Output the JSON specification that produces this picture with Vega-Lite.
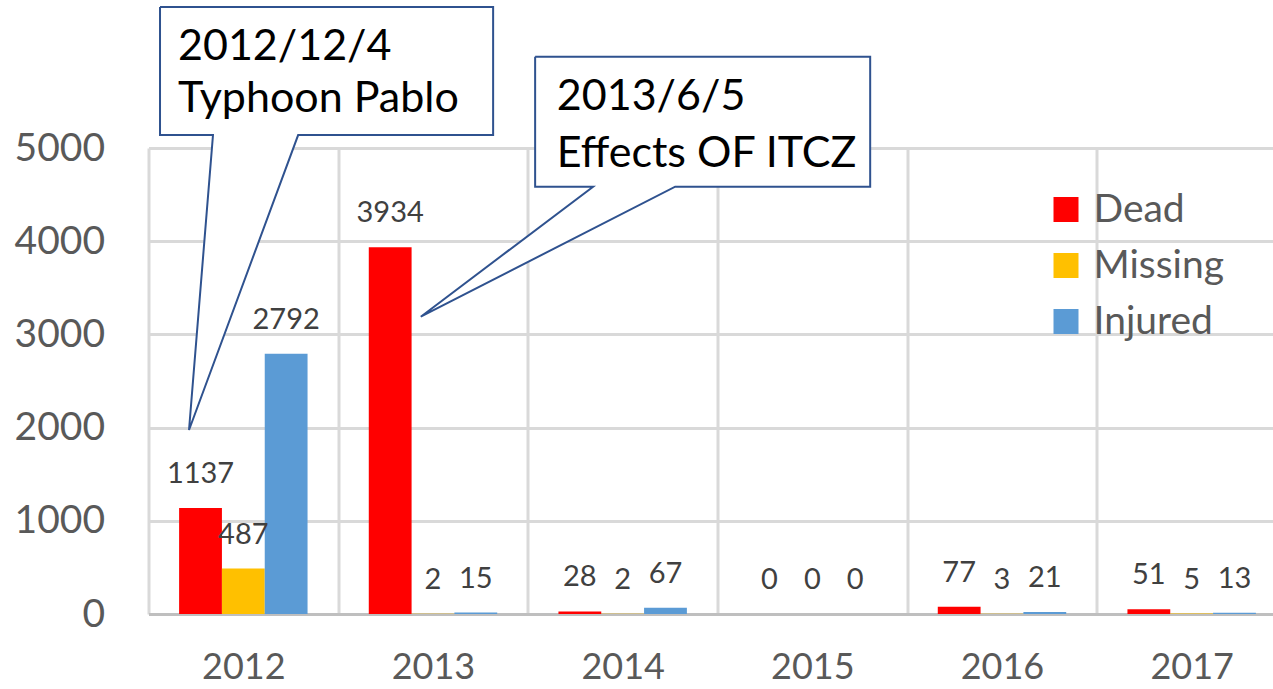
{
  "$schema": "https://vega.github.io/schema/vega-lite/v6.json",
  "width": 1138,
  "height": 466,
  "autosize": {"type": "none"},
  "padding": {"left": 148.5, "top": 148, "right": 0, "bottom": 75},
  "background": "white",
  "config": {"font": "Lato", "view": {"stroke": null}},
  "datasets": {
    "casualties": [
      {"year": "2012", "type": "Dead", "value": 1137},
      {"year": "2012", "type": "Missing", "value": 487},
      {"year": "2012", "type": "Injured", "value": 2792},
      {"year": "2013", "type": "Dead", "value": 3934},
      {"year": "2013", "type": "Missing", "value": 2},
      {"year": "2013", "type": "Injured", "value": 15},
      {"year": "2014", "type": "Dead", "value": 28},
      {"year": "2014", "type": "Missing", "value": 2},
      {"year": "2014", "type": "Injured", "value": 67},
      {"year": "2015", "type": "Dead", "value": 0},
      {"year": "2015", "type": "Missing", "value": 0},
      {"year": "2015", "type": "Injured", "value": 0},
      {"year": "2016", "type": "Dead", "value": 77},
      {"year": "2016", "type": "Missing", "value": 3},
      {"year": "2016", "type": "Injured", "value": 21},
      {"year": "2017", "type": "Dead", "value": 51},
      {"year": "2017", "type": "Missing", "value": 5},
      {"year": "2017", "type": "Injured", "value": 13}
    ],
    "boxes": [
      {"box": "a", "x1": 0.0607, "x2": 1.817, "y1": 5139, "y2": 6513},
      {"box": "b", "x1": 2.0385, "x2": 3.805, "y1": 4585, "y2": 5980}
    ],
    "pointers": [
      {"box": "a", "xq": 0.2136, "lo": 1974, "hi": 1974},
      {"box": "a", "xq": 0.340, "lo": 2669, "hi": 5139},
      {"box": "a", "xq": 0.789, "lo": 5139, "hi": 5139},
      {"box": "b", "xq": 1.4357, "lo": 3190, "hi": 3190},
      {"box": "b", "xq": 2.344, "lo": 4135, "hi": 4585},
      {"box": "b", "xq": 2.777, "lo": 4585, "hi": 4585}
    ],
    "outline": [
      {"box": "a", "o": 1, "xq": 0.0607, "yv": 6513},
      {"box": "a", "o": 2, "xq": 1.817, "yv": 6513},
      {"box": "a", "o": 3, "xq": 1.817, "yv": 5139},
      {"box": "a", "o": 4, "xq": 0.789, "yv": 5139},
      {"box": "a", "o": 5, "xq": 0.2136, "yv": 1974},
      {"box": "a", "o": 6, "xq": 0.340, "yv": 5139},
      {"box": "a", "o": 7, "xq": 0.0607, "yv": 5139},
      {"box": "a", "o": 8, "xq": 0.0607, "yv": 6513},
      {"box": "b", "o": 1, "xq": 2.0385, "yv": 5980},
      {"box": "b", "o": 2, "xq": 3.805, "yv": 5980},
      {"box": "b", "o": 3, "xq": 3.805, "yv": 4585},
      {"box": "b", "o": 4, "xq": 2.777, "yv": 4585},
      {"box": "b", "o": 5, "xq": 1.4357, "yv": 3190},
      {"box": "b", "o": 6, "xq": 2.344, "yv": 4585},
      {"box": "b", "o": 7, "xq": 2.0385, "yv": 4585},
      {"box": "b", "o": 8, "xq": 2.0385, "yv": 5980}
    ],
    "notes": [
      {"xq": 0.1556, "yv": 5944, "label": "2012/12/4"},
      {"xq": 0.1556, "yv": 5386, "label": "Typhoon Pablo"},
      {"xq": 2.153, "yv": 5408, "label": "2013/6/5"},
      {"xq": 2.153, "yv": 4799, "label": "Effects OF ITCZ"}
    ]
  },
  "layer": [
    {
      "layer": [
        {
          "data": {"name": "casualties"},
          "mark": {"type": "bar"},
          "encoding": {
            "x": {
              "field": "year", "type": "nominal",
              "scale": {"paddingInner": 0, "paddingOuter": 0},
              "axis": {
                "title": null, "labelAngle": 0, "labelFontSize": 36, "labelColor": "#595959",
                "labelPadding": 36, "ticks": false, "tickBand": "extent", "grid": true,
                "gridColor": "#d9d9d9", "gridWidth": 3, "domainColor": "#bfbfbf", "domainWidth": 3
              }
            },
            "xOffset": {
              "field": "type", "type": "nominal", "sort": ["Dead", "Missing", "Injured"],
              "scale": {"paddingInner": 0, "paddingOuter": 0.715}
            },
            "y": {
              "field": "value", "type": "quantitative",
              "scale": {"domain": [0, 5000], "nice": false},
              "axis": {
                "title": null, "orient": "left", "values": [0, 1000, 2000, 3000, 4000, 5000], "format": "d",
                "labelFontSize": 39, "labelColor": "#595959", "labelPadding": 44,
                "ticks": false, "domain": false, "grid": true, "gridColor": "#d9d9d9", "gridWidth": 3
              }
            },
            "color": {
              "field": "type", "type": "nominal", "sort": ["Dead", "Missing", "Injured"],
              "scale": {"domain": ["Dead", "Missing", "Injured"], "range": ["#ff0000", "#ffc000", "#5b9bd5"]},
              "legend": {
                "title": null, "orient": "none", "legendX": 898, "legendY": 42,
                "symbolType": "square", "symbolSize": 625, "symbolStrokeWidth": 0,
                "labelFontSize": 39, "labelColor": "#595959", "labelOffset": 8,
                "rowPadding": 16, "padding": 0
              }
            }
          }
        },
        {
          "data": {"name": "casualties"},
          "mark": {"type": "text", "baseline": "alphabetic", "dy": -25, "fontSize": 29, "color": "#404040"},
          "encoding": {
            "x": {"field": "year", "type": "nominal"},
            "xOffset": {"field": "type", "type": "nominal", "sort": ["Dead", "Missing", "Injured"]},
            "y": {"field": "value", "type": "quantitative"},
            "text": {"field": "value", "type": "quantitative"}
          }
        }
      ]
    },
    {
      "layer": [
        {
          "data": {"name": "boxes"},
          "mark": {"type": "rect", "fill": "white", "strokeWidth": 0},
          "encoding": {
            "x": {"field": "x1", "type": "quantitative", "scale": {"domain": [0, 6], "nice": false, "zero": false}, "axis": null},
            "x2": {"field": "x2"},
            "y": {"field": "y1", "type": "quantitative", "scale": {"domain": [0, 5000], "nice": false}},
            "y2": {"field": "y2"}
          }
        },
        {
          "data": {"name": "pointers"},
          "mark": {"type": "area", "fill": "white", "orient": "vertical", "strokeWidth": 0},
          "encoding": {
            "x": {"field": "xq", "type": "quantitative", "axis": null},
            "y": {"field": "hi", "type": "quantitative"},
            "y2": {"field": "lo"},
            "detail": {"field": "box"}
          }
        },
        {
          "data": {"name": "outline"},
          "mark": {"type": "line", "color": "#2f528f", "strokeWidth": 2, "strokeJoin": "miter"},
          "encoding": {
            "x": {"field": "xq", "type": "quantitative", "axis": null},
            "y": {"field": "yv", "type": "quantitative"},
            "order": {"field": "o", "type": "quantitative"},
            "detail": {"field": "box"}
          }
        },
        {
          "data": {"name": "notes"},
          "mark": {"type": "text", "align": "left", "baseline": "alphabetic", "fontSize": 43, "color": "#000000"},
          "encoding": {
            "x": {"field": "xq", "type": "quantitative", "axis": null},
            "y": {"field": "yv", "type": "quantitative"},
            "text": {"field": "label"}
          }
        }
      ]
    }
  ],
  "resolve": {"scale": {"x": "independent"}, "axis": {"x": "independent"}}
}
